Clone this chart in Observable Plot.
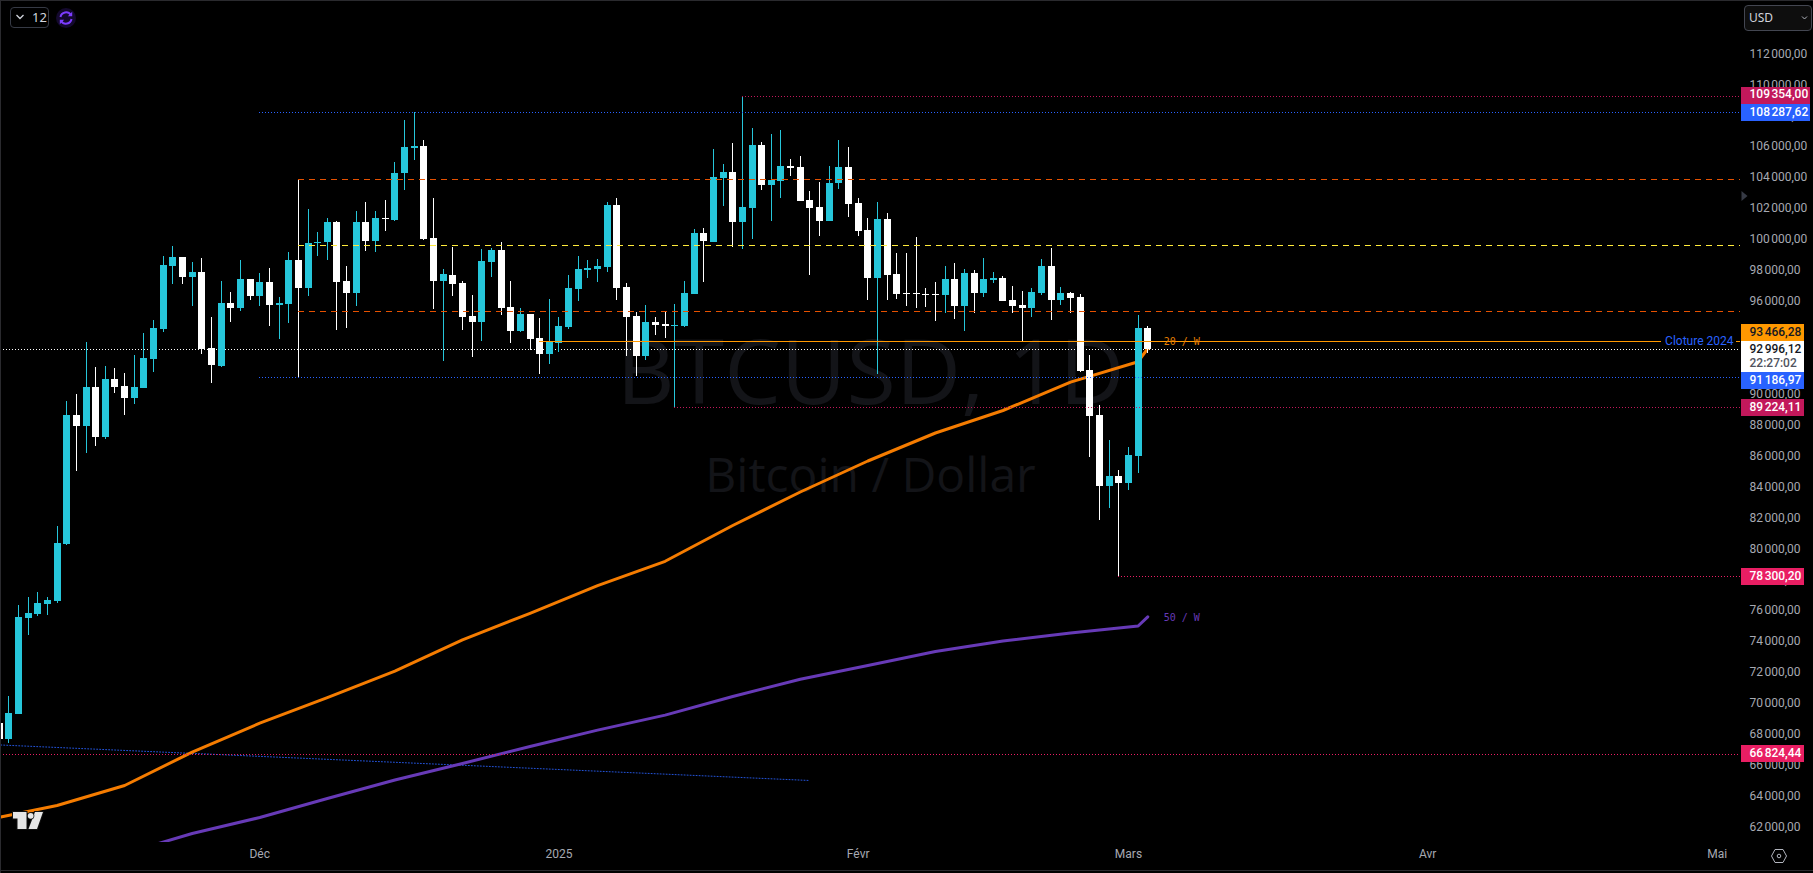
<!DOCTYPE html>
<html lang="fr">
<head>
<meta charset="utf-8">
<title>BTCUSD, 1D</title>
<script src="https://cdn.jsdelivr.net/npm/d3@7"></script>
<script src="https://cdn.jsdelivr.net/npm/@observablehq/plot@0.6"></script>
<style>
  html,body{margin:0;padding:0;background:#000;overflow:hidden}
  #wrap{position:relative;width:1813px;height:873px;overflow:hidden;background:#000}
  #wrap svg.chart{display:block;position:absolute;left:0;top:0}
  .chrome{position:absolute;box-sizing:border-box;font-family:"Noto Sans",Roboto,sans-serif;font-size:12px}
</style>
</head>
<body>
<div id="wrap"></div>
<script>
// Daily candles, first one is 2024-11-04, one value per day
const firstDay = "2024-11-04";
const opens = [
  68807,67772,69389,75595,75854,76500,76694,80379,88719,88008,90529,87296,91046,90594,89818,90464,92339,94280,98352,98933,97641,97964,93050,91887,95960,95637,97512,
  96413,97318,95831,95895,98739,96930,99839,99904,101197,97382,96606,101197,99968,101455,101326,104364,105981,106110,100162,97382,97770,97253,95120,94732,98610,99386,95701,94150,95249,93697,92662,
  93374,94409,96865,98094,98158,98287,102296,96994,95120,92533,94732,94603,94473,94473,96542,100486,99904,104041,104429,101197,102102,106174,103589,103848,104817,104753,102619,102166,101261,103718,104753,
  102425,100680,97576,101391,97835,96606,96606,96542,96542,96477,97512,95766,97899,96606,97447,97576,96154,95831,95637,96606,98352,96154,96606,
  96348,91628,88719,84129,84776,
  84323,86068,94344
];
const highs = [
  68807,70553,76436,76953,77276,76953,81543,89624,90077,93438,91822,91887,91757,91434,92598,94020,94861,98998,99645,98933,98610,98869,95055,97382,96671,98739,97512,
  97899,98223,96348,99257,103912,102037,100550,101455,101261,98352,101908,102490,101908,102619,105075,107791,108308,106498,102748,98158,99580,97382,96478,99451,99516,99904,97382,95637,95249,94990,96219,
  95055,97770,98998,98739,98804,102490,102748,97253,95378,95831,95055,95378,95895,97382,100744,100809,105916,104947,106304,109354,107274,106369,106886,107145,105270,105464,103201,103783,104817,106498,106045,
  102748,101455,102490,101778,99192,99192,100227,96930,97318,98352,98546,98158,98094,98869,97964,97706,97059,96736,96930,98804,99516,96994,96671,
  96542,92598,89366,87103,85163,
  86650,95185,94473
];
const lows = [
  67772,67514,69389,74496,75725,75789,76565,80314,85098,86262,86715,87167,90141,88719,89430,90464,91498,94085,97188,97188,95766,92662,90787,91822,94732,95443,96154,
  95766,94473,93632,94667,91176,96413,98998,98739,94214,94344,95766,99321,99257,100615,101261,103266,105205,100033,95572,92210,96413,94214,92469,93503,97641,95185,93374,94085,92921,91369,92016,
  92792,94280,96089,97576,97318,97964,96154,92533,91240,92274,93891,93697,89236,94409,96542,97318,99904,102231,99580,99451,100098,103266,101261,102748,104171,102554,97770,100292,101261,103330,101520,
  100292,96154,91369,96154,96219,95766,95637,95701,94797,95314,94926,94150,95314,96348,97253,96089,95314,93503,95055,96478,94861,95831,95314,
  91498,86003,81931,82707,78300,
  83870,84969,92727
];
const closes = [
  67772,69454,75660,75919,76565,76759,80444,88719,88008,90529,87296,91046,90529,89818,90529,92404,94344,98416,98933,97641,97964,92986,91951,95960,95637,97512,96413,
  97318,95831,95960,98739,96930,99839,99904,101197,97318,96606,101197,99968,101455,101391,104364,106045,106110,100098,97382,97835,97188,95055,94732,98675,99386,95637,94150,95249,93632,92662,93438,
  94473,96930,98158,98223,98352,102296,96930,95055,92533,94732,94538,94473,94538,96606,100486,99968,104106,104429,101197,102166,106174,103589,103912,104817,104688,102554,102102,101261,103718,104753,102360,
  100615,97576,101391,97770,96542,96542,96542,96477,96477,97512,95766,97899,96606,97512,97576,96089,95766,95637,96671,98352,96154,96606,96283,
  91563,88654,84129,84776,84323,
  86133,94344,92996
];

// Weekly moving averages
const ma20Dates = ["2024-11-04T04:00","2024-11-10","2024-11-17","2024-11-24","2024-12-01","2024-12-08","2024-12-15","2024-12-22","2024-12-29","2025-01-05","2025-01-12","2025-01-19","2025-01-26","2025-02-02","2025-02-09","2025-02-16","2025-02-23","2025-03-02","2025-03-03"];
const ma20Values = [62763,63506,64799,66958,68827,70475,72189,74212,75932,77723,79294,81608,83774,85778,87588,89043,90879,92198,93051];
const ma50Dates = ["2024-11-17","2024-11-24","2024-12-01","2024-12-08","2024-12-15","2024-12-22","2024-12-29","2025-01-05","2025-01-12","2025-01-19","2025-01-26","2025-02-02","2025-02-09","2025-02-16","2025-02-23","2025-03-02","2025-03-03"];
const ma50Values = [60401,61696,62730,63958,65154,66221,67320,68380,69350,70553,71665,72557,73462,74134,74658,75110,75705];

// Levels drawn on the chart
const dottedLevels = [108287.62,109354,91186.97,89224.11,78300.20,66824.44];
const dottedStarts = ["2024-12-01","2025-01-20","2024-12-01","2025-01-13","2025-02-28","2024-11-04T04:00"];
const dottedColors = ["#2962ff","#c2185b","#2962ff","#c2185b","#e91e63","#e91e63"];
const dashedLevels = [103958,95423,99691];
const dashedColors = ["#e65100","#e65100","#ffeb3b"];
const closeYear = 93466.28;
const lastPrice = 92996.12;
const trendDates = ["2024-11-04T04:00","2025-01-27"];
const trendValues = [67417,65122];

// Axes
const priceTicks = [62000,64000,66000,68000,70000,72000,74000,76000,78000,80000,82000,84000,86000,88000,90000,92000,94000,96000,98000,100000,102000,104000,106000,108000,110000,112000];
const monthDates = ["2024-12-01","2025-01-01","2025-02-01","2025-03-01","2025-04-01","2025-05-01"];
const monthNames = ["Déc","2025","Févr","Mars","Avr","Mai"];

// Price-scale badges
const badgeValues = [109354,108287.62,93466.28,92996.12,91186.97,89224.11,78300.20,66824.44];
const badgeFills = ["#c2185b","#2962ff","#ff9800","#ffffff","#2962ff","#c2185b","#e91e63","#e91e63"];
const badgeInks = ["#fff","#fff","#131722","#131722","#fff","#fff","#fff","#fff"];

const CYAN = "#26c6da", WHITE = "#ffffff";
const day = s => new Date(s.length > 10 ? s + "Z" : s + "T00:00Z");
const fr = d3.formatLocale({decimal: ",", thousands: "\u202f", grouping: [3]}).format(",.2f");

const candles = opens.map((o, i) => ({
  date: d3.utcDay.offset(day(firstDay), i), open: o, high: highs[i], low: lows[i], close: closes[i]
}));
const ma20 = ma20Values.map((v, i) => ({date: day(ma20Dates[i]), v}));
const ma50 = ma50Values.map((v, i) => ({date: day(ma50Dates[i]), v}));
const trend = trendValues.map((v, i) => ({date: day(trendDates[i]), v}));

const xEnd = new Date("2025-05-03T09:50Z");
const xStart = new Date("2024-11-04T03:21Z");
const up = d => d.close > d.open, down = d => !(d.close > d.open);

// Badge geometry: height and offset from the level, stacked as the price scale stacks them
const badgeShift = [-0.8,0.2,-9,7.6,3.5,0,0,0];
const badgeHeight = [17,17,17,31,17,17,17,17];
const badgeRight = [70,70,64,64,64,64,64,64];
const textShift = [-2,-0.6,-10,-0.6,2.5,-0.6,-0.6,-0.6];
const badgeMarks = badgeValues.flatMap((v, i) => [
  Plot.rect([v], {
    x1: () => xEnd, x2: () => xEnd, y1: d => d, y2: d => d, fill: badgeFills[i],
    insetLeft: 1, insetRight: -badgeRight[i],
    insetTop: badgeShift[i] - badgeHeight[i] / 2, insetBottom: -badgeHeight[i] / 2 - badgeShift[i],
    shapeRendering: "crispEdges"
  }),
  Plot.text([v], {
    x: () => xEnd, y: d => d, text: d => fr(d), textAnchor: "start", dx: 9, dy: textShift[i],
    fill: badgeInks[i], fontSize: 12, fontWeight: 500
  })
]);

const rule = (value, from, to, stroke, extra = {}) =>
  Plot.ruleY([value], {y: d => d, x1: () => from, x2: () => to, stroke, strokeWidth: 1, shapeRendering: "crispEdges", ...extra});

const chart = Plot.plot({
  width: 1813, height: 873,
  marginTop: 0, marginLeft: 0, marginRight: 73, marginBottom: 31,
  style: {background: "#000", fontFamily: "Roboto, 'Noto Sans', sans-serif"},
  className: "chart",
  x: {type: "utc", domain: [xStart, xEnd]},
  y: {type: "linear", domain: [61114, 115549]},
  marks: [
    // Watermark
    Plot.text(["BTCUSD, 1D"], {frameAnchor: "middle", dy: -46, fill: "#131418", fontSize: 90, fontFamily: "'Open Sans', sans-serif"}),
    Plot.text(["Bitcoin / Dollar"], {frameAnchor: "middle", dy: 55, fill: "#131418", fontSize: 48, fontFamily: "'Open Sans', sans-serif"}),

    // Axes
    Plot.axisY(priceTicks, {anchor: "right", tickSize: 0, tickPadding: 9, dy: -1.6, tickFormat: fr, fill: "#a6a9b2", fontSize: 12, label: null, textAnchor: "start"}),
    Plot.axisX(monthDates.map(day), {anchor: "bottom", tickSize: 0, tickPadding: 7, fill: "#a6a9b2", fontSize: 12, label: null,
      tickFormat: d => monthNames[monthDates.findIndex(m => +day(m) === +d)]}),

    // Last-price line and trend line under the candles
    rule(lastPrice, xStart, xEnd, "#ffffff", {strokeDasharray: "1,2"}),
    Plot.line(trend, {x: "date", y: "v", stroke: "#2962ff", strokeWidth: 1, strokeDasharray: "1,2", strokeOpacity: 0.85}),

    // Weekly averages
    Plot.line(ma20, {x: "date", y: "v", stroke: "#f57c00", strokeWidth: 3, clip: true}),
    Plot.line(ma50, {x: "date", y: "v", stroke: "#673ab7", strokeWidth: 3, clip: true}),

    // Candles
    Plot.ruleX(candles, {filter: down, x: "date", y1: "low", y2: "high", stroke: WHITE, strokeWidth: 1, shapeRendering: "crispEdges"}),
    Plot.ruleX(candles, {filter: up, x: "date", y1: "low", y2: "high", stroke: CYAN, strokeWidth: 1, shapeRendering: "crispEdges"}),
    Plot.ruleX(candles, {filter: down, x: "date", y1: "open", y2: "close", stroke: WHITE, strokeWidth: 7, shapeRendering: "crispEdges"}),
    Plot.ruleX(candles, {filter: up, x: "date", y1: "open", y2: "close", stroke: CYAN, strokeWidth: 7, shapeRendering: "crispEdges"}),

    // Drawn levels
    ...dottedLevels.map((v, i) => rule(v, day(dottedStarts[i]), xEnd, dottedColors[i], {strokeDasharray: "1,2"})),
    ...dashedLevels.map((v, i) => rule(v, day("2024-12-05"), xEnd, dashedColors[i], {strokeDasharray: "6,5"})),
    rule(closeYear, day("2024-12-30"), new Date("2025-04-25T05:00Z"), "#ff9800", {dy: -0.8}),
    rule(closeYear, new Date("2025-05-03T00:00Z"), xEnd, "#ff9800", {dy: -0.8}),

    // Line labels
    Plot.text(["Cloture 2024"], {x: () => xEnd, y: () => closeYear, text: d => d, textAnchor: "end", dx: -7, dy: -1, fill: "#2962ff", fontSize: 12}),
    Plot.text(["20 / W"], {x: () => day("2025-03-03"), y: () => closeYear, text: d => d, textAnchor: "start", dx: 16, dy: 0, fill: "#e67e00", fontSize: 10, fontFamily: "'DejaVu Sans Mono', monospace"}),
    Plot.text(["50 / W"], {x: () => day("2025-03-03"), y: () => 75705, text: d => d, textAnchor: "start", dx: 16, dy: 1, fill: "#673ab7", fontSize: 10, fontFamily: "'DejaVu Sans Mono', monospace"}),

    // Price-scale badges
    ...badgeMarks,
    Plot.text(["22:27:02"], {x: () => xEnd, y: () => lastPrice, text: d => d, textAnchor: "start", dx: 9, dy: 13.5, fill: "#50535e", fontSize: 12, fontWeight: 500})
  ]
});
chart.setAttribute("class", (chart.getAttribute("class") || "") + " chart");
const wrap = document.getElementById("wrap");
wrap.appendChild(chart);

// Window chrome: buttons, logo and frame lines
wrap.insertAdjacentHTML("beforeend", `
<div class="chrome" style="left:0;top:0;width:1813px;height:1px;background:#2a2a2e"></div>
<div class="chrome" style="left:0;top:0;width:1px;height:873px;background:#2a2a2e"></div>
<div class="chrome" style="left:0;top:870px;width:1813px;height:1px;background:#2a2a2e"></div>
<div class="chrome" style="left:10px;top:7px;width:39px;height:21px;border:1px solid #363a45;border-radius:4px;color:#d1d4dc;line-height:19px;padding-left:21px;font-size:13px">12</div>
<svg class="chrome" style="left:10px;top:7px" width="60" height="24"><path d="M6.5 8 L10 11.5 L13.5 8" fill="none" stroke="#d1d4dc" stroke-width="1.3"/></svg>
<svg class="chrome" style="left:55px;top:7px" width="22" height="22" viewBox="0 0 22 22">
  <circle cx="11" cy="11" r="10" fill="#14092e"/>
  <path d="M5.5 10 A5.6 5.6 0 0 1 15.8 8 M16.5 12 A5.6 5.6 0 0 1 6.2 14" fill="none" stroke="#7c3cff" stroke-width="2"/>
  <path d="M17.2 4.8 L17.2 9.2 L12.8 9.2 Z M4.8 17.2 L4.8 12.8 L9.2 12.8 Z" fill="#7c3cff"/>
</svg>
<div class="chrome" style="left:1744px;top:5px;width:68px;height:26px;background:#0e0e0e;border:1px solid #434651;border-radius:4px;color:#d1d4dc;line-height:24px;padding-left:4px">USD</div>
<svg class="chrome" style="left:1800px;top:12px" width="10" height="12"><path d="M2 4.5 L4.5 7 L7 4.5" fill="none" stroke="#b2b5be" stroke-width="1"/></svg>
<svg class="chrome" style="left:1741px;top:190px" width="8" height="12"><path d="M0.5 1 L6.5 6 L0.5 11 Z" fill="#363a45"/></svg>
<svg class="chrome" style="left:1770px;top:847px" width="18" height="18" viewBox="0 0 18 18">
  <path d="M5 2.5 H13 L16.5 9 L13 15.5 H5 L1.5 9 Z" fill="none" stroke="#b2b5be" stroke-width="1"/>
  <circle cx="9" cy="9" r="1.8" fill="none" stroke="#b2b5be" stroke-width="1"/>
</svg>
<svg class="chrome" style="left:11px;top:811px" width="33" height="20" viewBox="0 0 33 20">
  <path d="M2 1 H15.5 V18 H6.5 V7.5 H2 Z M24 1 H32 L26 18 H17.5 Z" fill="#e6e6e6" stroke="#111" stroke-width="2" paint-order="stroke"/>
  <circle cx="19.7" cy="4.8" r="2.9" fill="#e6e6e6" stroke="#111" stroke-width="1.5" paint-order="stroke"/>
</svg>`);
</script>
</body>
</html>
